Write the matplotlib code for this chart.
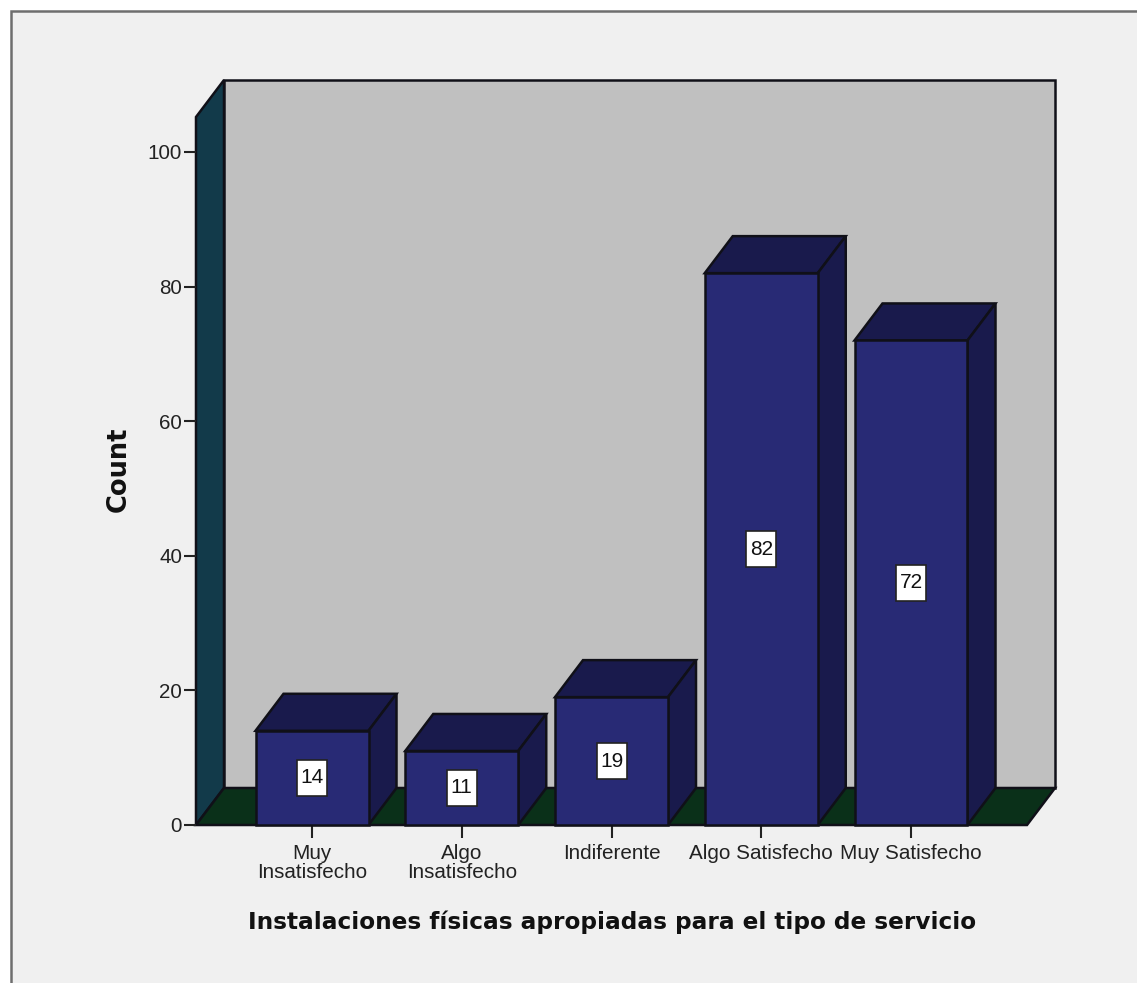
import matplotlib
matplotlib.use("Agg")
import matplotlib.pyplot as plt
from matplotlib.patches import Polygon, Rectangle

categories = ["Muy\nInsatisfecho", "Algo\nInsatisfecho", "Indiferente", "Algo Satisfecho", "Muy Satisfecho"]
counts = [14, 11, 19, 82, 72]
y_ticks = [0, 20, 40, 60, 80, 100]
x_title = "Instalaciones físicas apropiadas para el tipo de servicio"
y_title = "Count"

W, H = 1137, 983
# pixels per category / per count, from the reference
px_x = 149.75
px_y = 6.73
x0_px = 312
y0_px = 825
# depth of the fake 3d
dx = 28 / px_x
dy = 37 / px_y
bar_w = 113 / px_x
left = (196 - x0_px) / px_x
right = (1027 - x0_px) / px_x
top = (y0_px - 117) / px_y

edge = "#101018"
lw = 1.8

plt.rcParams["font.family"] = ["Liberation Sans", "DejaVu Sans"]

fig = plt.figure(figsize=(W / 100, H / 100), dpi=100, facecolor="white")
fig.add_artist(Rectangle((11 / W, -0.02), 1.02, 1.02 - 11 / H, transform=fig.transFigure,
                         facecolor="#f0f0f0", edgecolor="#6e6e6e", linewidth=1.8, zorder=-1))

ax = fig.add_axes([0, 0, 1, 1])
ax.patch.set_visible(False)
ax.set_xlim(-x0_px / px_x, (W - x0_px) / px_x)
ax.set_ylim((y0_px - H) / px_y, y0_px / px_y)


def poly(pts, color, z):
    ax.add_patch(Polygon(pts, closed=True, facecolor=color, edgecolor=edge,
                         linewidth=lw, joinstyle="miter", zorder=z))


# walls and floor
poly([(left, 0), (left + dx, dy), (left + dx, top + dy), (left, top)], "#123a4a", 1)
poly([(left + dx, dy), (right + dx, dy), (right + dx, top + dy), (left + dx, top + dy)], "#c0c0c0", 1)
poly([(left, 0), (right, 0), (right + dx, dy), (left + dx, dy)], "#0a3019", 1.5)

# bars
box_w = 30 / px_x
box_h = 36 / px_y
for i, v in enumerate(counts):
    l = i - bar_w / 2
    r = i + bar_w / 2
    z = 2 + i
    poly([(l, v), (r, v), (r + dx, v + dy), (l + dx, v + dy)], "#191a4c", z)
    poly([(r, 0), (r + dx, dy), (r + dx, v + dy), (r, v)], "#191a4c", z)
    ax.bar(i, v, width=bar_w, color="#282a75", edgecolor=edge, linewidth=lw, zorder=z + 0.1)
    # value box is taller than wide in the reference, so not a text bbox
    ax.add_patch(Rectangle((i - box_w / 2, v / 2 - box_h / 2), box_w, box_h, facecolor="white",
                           edgecolor="#222222", linewidth=1.2, zorder=10))
    ax.text(i, v / 2, str(v), ha="center", va="center", fontsize=15, color="#111111", zorder=11)

# axes, spines only carry the ticks
for s in ["top", "right"]:
    ax.spines[s].set_visible(False)
ax.spines["left"].set_position(("data", left))
ax.spines["bottom"].set_position(("data", 0))
ax.spines["left"].set_visible(False)
ax.spines["bottom"].set_visible(False)
ax.set_yticks(y_ticks)
ax.set_xticks(range(len(categories)))
ax.set_xticklabels(categories, linespacing=1.0)
ax.tick_params(axis="y", length=8.6, width=1.5, color="#222222", pad=1.5, labelsize=14.9, labelcolor="#222222")
ax.tick_params(axis="x", length=9.4, width=1.5, color="#222222", pad=4.5, labelsize=14.9, labelcolor="#222222")

ax.set_xlabel(x_title, fontsize=16.7, fontweight="bold", family=["DejaVu Sans"], color="#111111")
ax.xaxis.set_label_coords(612 / W, 1 - 922 / H)
ax.xaxis.label.set_va("center")
ax.set_ylabel(y_title, fontsize=18.5, fontweight="bold", family=["DejaVu Sans"], color="#111111")
ax.yaxis.set_label_coords(119 / W, 1 - 469 / H)
ax.yaxis.label.set_va("center")

fig.savefig("out.png", dpi=100, facecolor=fig.get_facecolor())
